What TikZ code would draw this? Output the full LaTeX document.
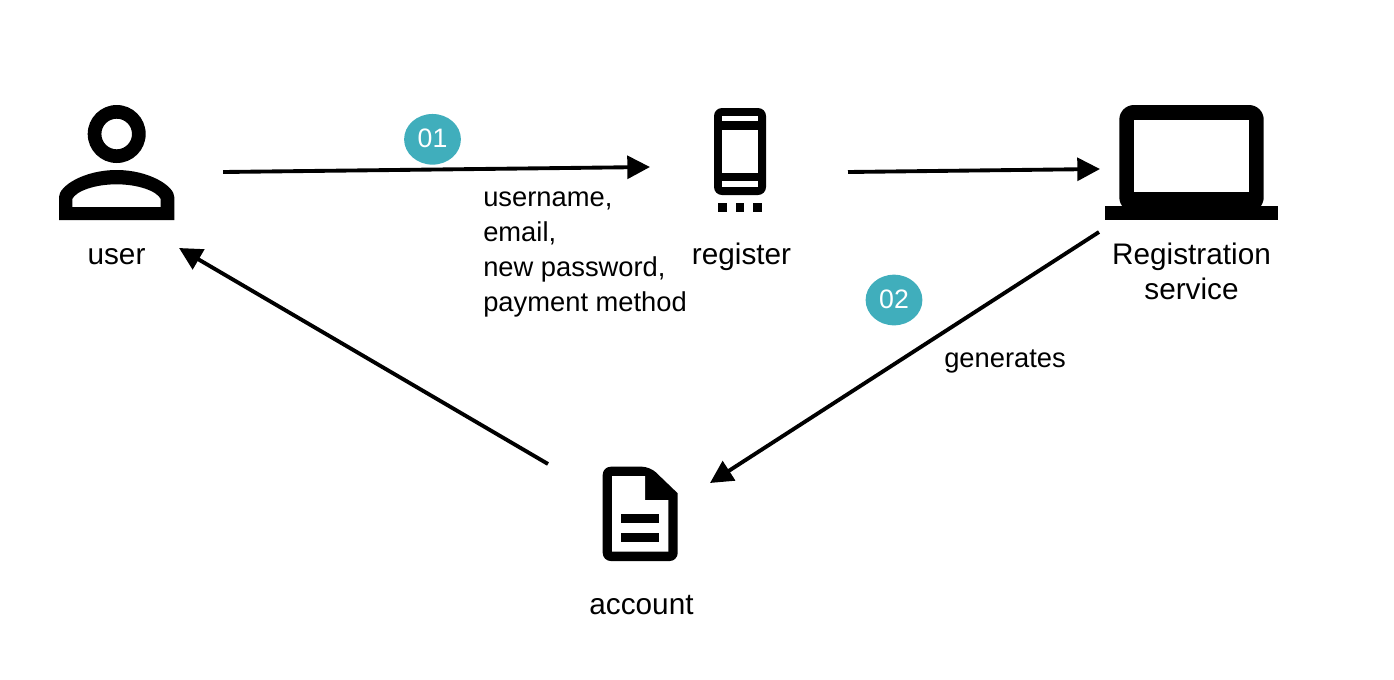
\documentclass[tikz,border=0pt]{standalone}
\usepackage{fontspec}
\setmainfont{Liberation Sans}
\usetikzlibrary{arrows.meta,calc,shapes.geometric}
\definecolor{badgeteal}{HTML}{40AEBC}
\tikzset{
  iconbox/.style={inner sep=0pt,outer sep=0pt,draw=none},
  iconfill/.style={fill=black,draw=none,even odd rule},
  flow/.style={draw=black,line width=2.9pt,-{Triangle[length=17pt,width=17pt]}},
  biglabel/.style={font=\fontsize{22.3}{26.25}\selectfont,inner sep=0pt,align=center},
  smalllabel/.style={font=\fontsize{20.5}{26.25}\selectfont,inner sep=0pt,align=left},
  badge/.style={ellipse,fill=badgeteal,text=white,minimum width=42.6pt,minimum height=38pt,inner sep=0pt,font=\fontsize{20}{22}\selectfont}
}
\begin{document}
\begin{tikzpicture}[x=0.75pt,y=-0.75pt]
\useasboundingbox (0,0) rectangle (1394,679);
% icon frames
\node[iconbox,minimum width=86.5pt,minimum height=86.25pt] (user) at (116.7,162.5) {};
\node[iconbox,minimum width=39pt,minimum height=78.2pt] (register) at (740,160.2) {};
\node[iconbox,minimum width=129.75pt,minimum height=86.25pt] (service) at (1191.8,162.5) {};
\node[iconbox,minimum width=56.25pt,minimum height=70.75pt] (account) at (640.2,513.85) {};
% user icon
\fill[iconfill] (116.7,134) circle (29) (116.7,134) circle (15.3);
\fill[iconfill] (59,220) -- (59,197) .. controls (59,186) and (84,170) .. (116.7,170)
  .. controls (149,170) and (174.3,186) .. (174.3,197) -- (174.3,220) -- cycle
  (72.3,207) -- (72.3,199) .. controls (76,191) and (95,184.3) .. (116.5,184.3)
  .. controls (138,184.3) and (157,191) .. (160.7,199) -- (160.7,207) -- cycle;
% phone icon
\fill[iconfill,rounded corners=6pt] (714,108) rectangle (766,195);
\fill[white] (722.3,116.3) rectangle (758,121);
\fill[white] (722.3,129.7) rectangle (758,173);
\fill[white] (722.3,181.3) rectangle (758,186.7);
\fill[black] (718.3,203.3) rectangle (727.3,212.3);
\fill[black] (735.7,203.3) rectangle (744.3,212.3);
\fill[black] (753.3,203.3) rectangle (762,212.3);
% laptop icon
\fill[iconfill,rounded corners=11pt] (1119.3,105) rectangle (1263.7,212);
\fill[white] (1134,120) rectangle (1249.3,191.7);
\fill[black] (1105.3,206.3) rectangle (1278.3,220);
% document icon
\fill[black] (602.7,510) [rounded corners=6pt] -- (602.7,466.7) -- (650,466.7) [sharp corners] -- (677.7,493.3) [rounded corners=6pt] -- (677.7,561) -- (602.7,561) -- cycle;
\fill[white] (612,476) -- (645,476) -- (645,500) -- (668.3,500) -- (668.3,551.7) -- (612,551.7) -- cycle;
\fill[black] (621,514) rectangle (659,523.3);
\fill[black] (621,532.7) rectangle (659,542);
% labels
\node[biglabel,anchor=base] (userlabel) at (116.5,264) {user};
\node[biglabel,anchor=base] (registerlabel) at (741.5,264) {register};
\node[biglabel,anchor=north] (servicelabel) at (1191.5,243) {Registration\\service};
\node[biglabel,anchor=base] (accountlabel) at (641.5,614) {account};
\node[smalllabel,anchor=north west] (fields) at (483,192) {username,\\email,\\new password,\\payment method};
\node[smalllabel,anchor=base west] (generates) at (944,367) {generates};
% badges
\node[badge] (b1) at (432.5,139.3) {\raisebox{2.2pt}{01}};
\node[badge] (b2) at (894,300) {\raisebox{1.5pt}{02}};
% connectors
\draw[flow] ($(user.east)+(48.7,9.5)$) -- ($(register.west)+(-64,6.8)$);
\draw[flow] ($(register.east)+(82,11.8)$) -- ($(service.west)+(-5.3,6.5)$);
\draw[flow] ($(service.south west)+(-6.3,12)$) -- ($(account.north east)+(32.3,16.3)$);
\draw[flow] ($(account.north west)+(-54.7,-2.7)$) -- ($(user.south east)+(4.7,28)$);
\end{tikzpicture}
\end{document}
